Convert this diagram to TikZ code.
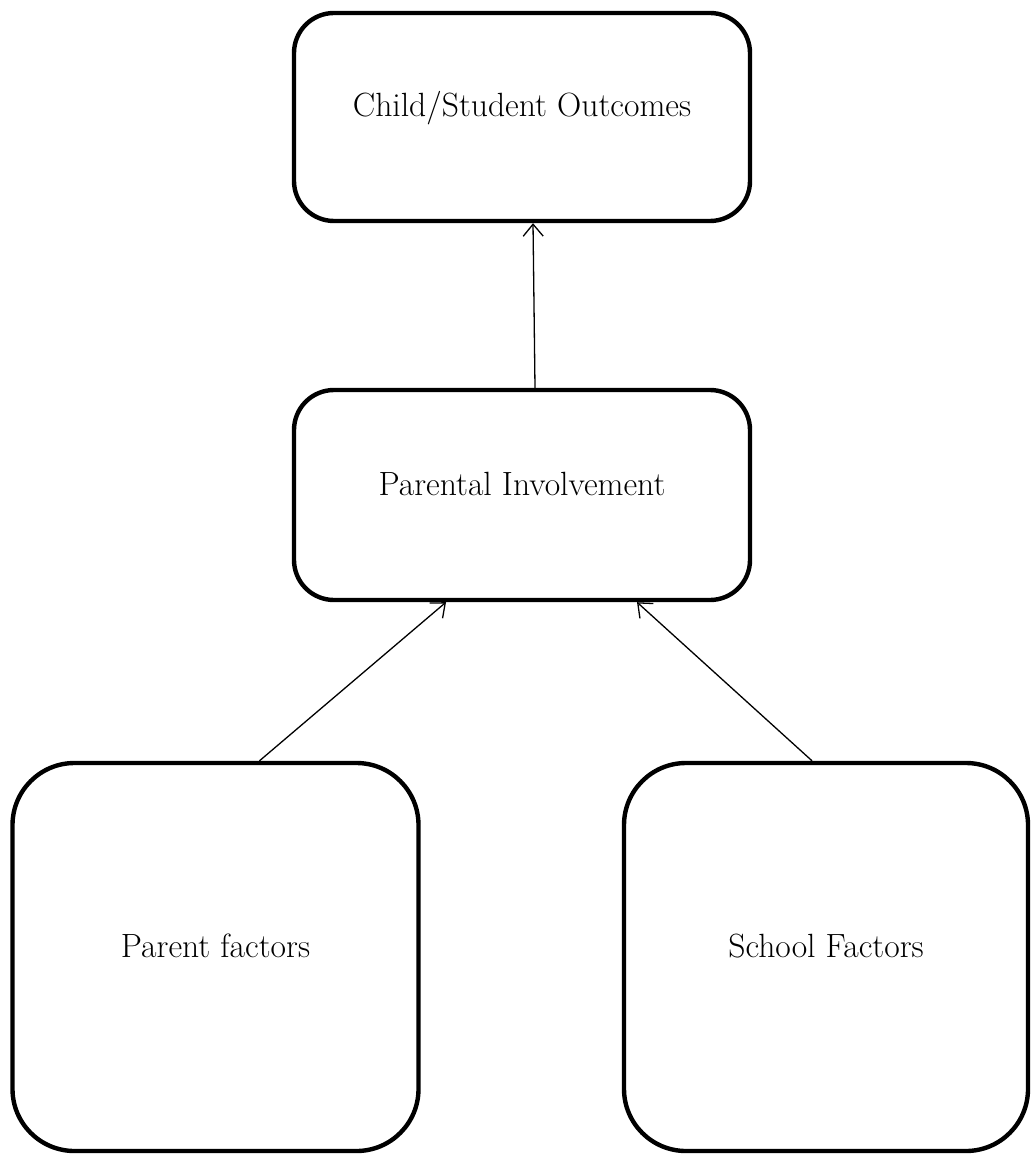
\documentclass[tikz,border=0pt]{standalone}
\usetikzlibrary{arrows.meta}
\begin{document}
\begin{tikzpicture}[x=0.5pt,y=-0.5pt,
  box/.style={draw,line width=2.2pt,rounded corners=20pt,minimum width=228pt,minimum height=104pt,
    text height=8pt,text depth=8pt,font=\fontsize{16.8}{20}\selectfont},
  bigbox/.style={box,rounded corners=31pt,minimum width=203pt,minimum height=194pt},
  link/.style={line width=0.65pt,-{Straight Barb[length=6pt,width=10pt]}}]
\useasboundingbox (0,0) rectangle (1030,1154);
\node[box] at (522,117) (out) {Child/Student Outcomes};
\node[box,minimum height=105pt] at (522,495) (inv) {Parental Involvement};
\node[bigbox] at (215.5,957) (par) {Parent factors};
\node[bigbox,minimum width=202pt] at (826,957) (sch) {School Factors};
\draw[link] ([xshift=6.5pt]inv.north) -- ([xshift=5.5pt]out.south);
\draw[link] ([xshift=22pt]par.north) -- ([xshift=-38pt]inv.south);
\draw[link] ([xshift=-7pt]sch.north) -- ([xshift=57.5pt]inv.south);
\end{tikzpicture}
\end{document}
